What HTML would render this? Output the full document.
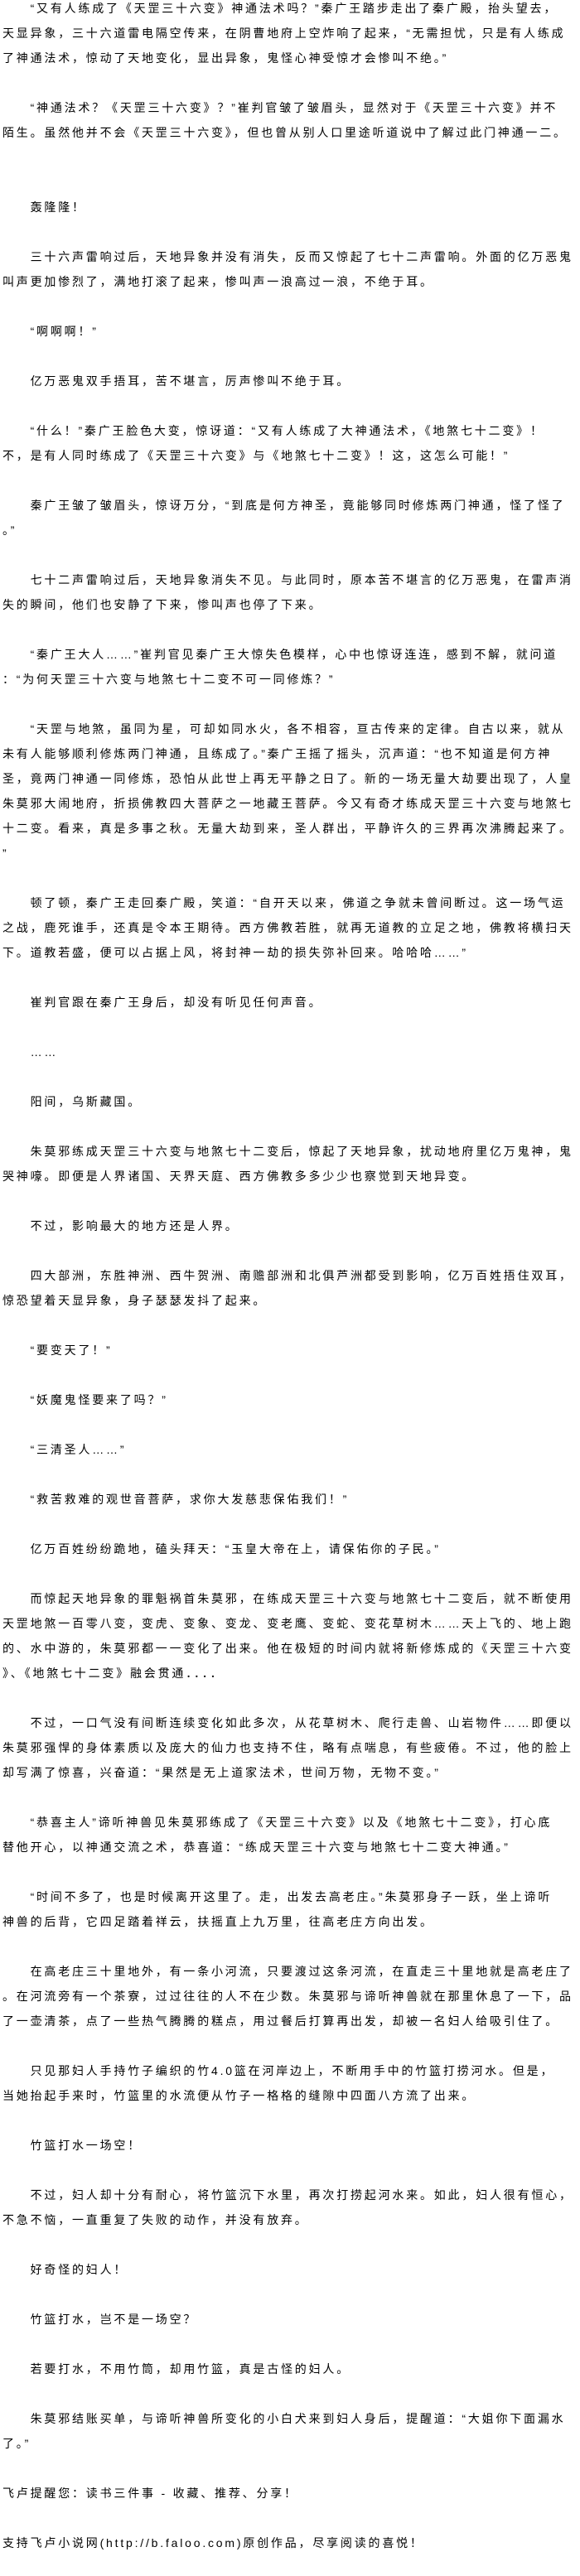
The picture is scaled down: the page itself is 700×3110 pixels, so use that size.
<!DOCTYPE html>
<html><head><meta charset="utf-8"><style>
html,body{margin:0;padding:0;background:#fff;}
body{width:700px;height:3110px;position:relative;overflow:hidden;}
.l{position:absolute;left:3px;height:30px;line-height:30px;font-size:14px;letter-spacing:2.8px;white-space:nowrap;color:#000;font-family:"Liberation Sans","Noto Sans CJK SC",sans-serif;}
</style></head><body>
<div class="l" style="top:-5px">　　“又有人练成了《天罡三十六变》神通法术吗？”秦广王踏步走出了秦广殿，抬头望去，</div>
<div class="l" style="top:25px">天显异象，三十六道雷电隔空传来，在阴曹地府上空炸响了起来，“无需担忧，只是有人练成</div>
<div class="l" style="top:55px">了神通法术，惊动了天地变化，显出异象，鬼怪心神受惊才会惨叫不绝。”</div>
<div class="l" style="top:115px">　　“神通法术？《天罡三十六变》？”崔判官皱了皱眉头，显然对于《天罡三十六变》并不</div>
<div class="l" style="top:145px">陌生。虽然他并不会《天罡三十六变》，但也曾从别人口里途听道说中了解过此门神通一二。</div>
<div class="l" style="top:235px">　　轰隆隆！</div>
<div class="l" style="top:295px">　　三十六声雷响过后，天地异象并没有消失，反而又惊起了七十二声雷响。外面的亿万恶鬼</div>
<div class="l" style="top:325px">叫声更加惨烈了，满地打滚了起来，惨叫声一浪高过一浪，不绝于耳。</div>
<div class="l" style="top:385px">　　“啊啊啊！”</div>
<div class="l" style="top:445px">　　亿万恶鬼双手捂耳，苦不堪言，厉声惨叫不绝于耳。</div>
<div class="l" style="top:505px">　　“什么！”秦广王脸色大变，惊讶道：“又有人练成了大神通法术，《地煞七十二变》！</div>
<div class="l" style="top:535px">不，是有人同时练成了《天罡三十六变》与《地煞七十二变》！这，这怎么可能！”</div>
<div class="l" style="top:595px">　　秦广王皱了皱眉头，惊讶万分，“到底是何方神圣，竟能够同时修炼两门神通，怪了怪了</div>
<div class="l" style="top:625px">。”</div>
<div class="l" style="top:685px">　　七十二声雷响过后，天地异象消失不见。与此同时，原本苦不堪言的亿万恶鬼，在雷声消</div>
<div class="l" style="top:715px">失的瞬间，他们也安静了下来，惨叫声也停了下来。</div>
<div class="l" style="top:775px">　　“秦广王大人……”崔判官见秦广王大惊失色模样，心中也惊讶连连，感到不解，就问道</div>
<div class="l" style="top:805px">：“为何天罡三十六变与地煞七十二变不可一同修炼？”</div>
<div class="l" style="top:865px">　　“天罡与地煞，虽同为星，可却如同水火，各不相容，亘古传来的定律。自古以来，就从</div>
<div class="l" style="top:895px">未有人能够顺利修炼两门神通，且练成了。”秦广王摇了摇头，沉声道：“也不知道是何方神</div>
<div class="l" style="top:925px">圣，竟两门神通一同修炼，恐怕从此世上再无平静之日了。新的一场无量大劫要出现了，人皇</div>
<div class="l" style="top:955px">朱莫邪大闹地府，折损佛教四大菩萨之一地藏王菩萨。今又有奇才练成天罡三十六变与地煞七</div>
<div class="l" style="top:985px">十二变。看来，真是多事之秋。无量大劫到来，圣人群出，平静许久的三界再次沸腾起来了。</div>
<div class="l" style="top:1015px">”</div>
<div class="l" style="top:1075px">　　顿了顿，秦广王走回秦广殿，笑道：“自开天以来，佛道之争就未曾间断过。这一场气运</div>
<div class="l" style="top:1105px">之战，鹿死谁手，还真是令本王期待。西方佛教若胜，就再无道教的立足之地，佛教将横扫天</div>
<div class="l" style="top:1135px">下。道教若盛，便可以占据上风，将封神一劫的损失弥补回来。哈哈哈……”</div>
<div class="l" style="top:1195px">　　崔判官跟在秦广王身后，却没有听见任何声音。</div>
<div class="l" style="top:1255px">　　……</div>
<div class="l" style="top:1315px">　　阳间，乌斯藏国。</div>
<div class="l" style="top:1375px">　　朱莫邪练成天罡三十六变与地煞七十二变后，惊起了天地异象，扰动地府里亿万鬼神，鬼</div>
<div class="l" style="top:1405px">哭神嚎。即便是人界诸国、天界天庭、西方佛教多多少少也察觉到天地异变。</div>
<div class="l" style="top:1465px">　　不过，影响最大的地方还是人界。</div>
<div class="l" style="top:1525px">　　四大部洲，东胜神洲、西牛贺洲、南赡部洲和北俱芦洲都受到影响，亿万百姓捂住双耳，</div>
<div class="l" style="top:1555px">惊恐望着天显异象，身子瑟瑟发抖了起来。</div>
<div class="l" style="top:1615px">　　“要变天了！”</div>
<div class="l" style="top:1675px">　　“妖魔鬼怪要来了吗？”</div>
<div class="l" style="top:1735px">　　“三清圣人……”</div>
<div class="l" style="top:1795px">　　“救苦救难的观世音菩萨，求你大发慈悲保佑我们！”</div>
<div class="l" style="top:1855px">　　亿万百姓纷纷跪地，磕头拜天：“玉皇大帝在上，请保佑你的子民。”</div>
<div class="l" style="top:1915px">　　而惊起天地异象的罪魁祸首朱莫邪，在练成天罡三十六变与地煞七十二变后，就不断使用</div>
<div class="l" style="top:1945px">天罡地煞一百零八变，变虎、变象、变龙、变老鹰、变蛇、变花草树木……天上飞的、地上跑</div>
<div class="l" style="top:1975px">的、水中游的，朱莫邪都一一变化了出来。他在极短的时间内就将新修炼成的《天罡三十六变</div>
<div class="l" style="top:2005px">》、《地煞七十二变》融会贯通．．．．</div>
<div class="l" style="top:2065px">　　不过，一口气没有间断连续变化如此多次，从花草树木、爬行走兽、山岩物件……即便以</div>
<div class="l" style="top:2095px">朱莫邪强悍的身体素质以及庞大的仙力也支持不住，略有点喘息，有些疲倦。不过，他的脸上</div>
<div class="l" style="top:2125px">却写满了惊喜，兴奋道：“果然是无上道家法术，世间万物，无物不变。”</div>
<div class="l" style="top:2185px">　　“恭喜主人”谛听神兽见朱莫邪练成了《天罡三十六变》以及《地煞七十二变》，打心底</div>
<div class="l" style="top:2215px">替他开心，以神通交流之术，恭喜道：“练成天罡三十六变与地煞七十二变大神通。”</div>
<div class="l" style="top:2275px">　　“时间不多了，也是时候离开这里了。走，出发去高老庄。”朱莫邪身子一跃，坐上谛听</div>
<div class="l" style="top:2305px">神兽的后背，它四足踏着祥云，扶摇直上九万里，往高老庄方向出发。</div>
<div class="l" style="top:2365px">　　在高老庄三十里地外，有一条小河流，只要渡过这条河流，在直走三十里地就是高老庄了</div>
<div class="l" style="top:2395px">。在河流旁有一个茶寮，过过往往的人不在少数。朱莫邪与谛听神兽就在那里休息了一下，品</div>
<div class="l" style="top:2425px">了一壶清茶，点了一些热气腾腾的糕点，用过餐后打算再出发，却被一名妇人给吸引住了。</div>
<div class="l" style="top:2485px">　　只见那妇人手持竹子编织的竹4.0篮在河岸边上，不断用手中的竹篮打捞河水。但是，</div>
<div class="l" style="top:2515px">当她抬起手来时，竹篮里的水流便从竹子一格格的缝隙中四面八方流了出来。</div>
<div class="l" style="top:2575px">　　竹篮打水一场空！</div>
<div class="l" style="top:2635px">　　不过，妇人却十分有耐心，将竹篮沉下水里，再次打捞起河水来。如此，妇人很有恒心，</div>
<div class="l" style="top:2665px">不急不恼，一直重复了失败的动作，并没有放弃。</div>
<div class="l" style="top:2725px">　　好奇怪的妇人！</div>
<div class="l" style="top:2785px">　　竹篮打水，岂不是一场空？</div>
<div class="l" style="top:2845px">　　若要打水，不用竹筒，却用竹篮，真是古怪的妇人。</div>
<div class="l" style="top:2905px">　　朱莫邪结账买单，与谛听神兽所变化的小白犬来到妇人身后，提醒道：“大姐你下面漏水</div>
<div class="l" style="top:2935px">了。”</div>
<div class="l" style="top:2995px">飞卢提醒您：读书三件事 - 收藏、推荐、分享！</div>
<div class="l" style="top:3055px">支持飞卢小说网(http://b.faloo.com)原创作品，尽享阅读的喜悦！</div>
</body></html>
